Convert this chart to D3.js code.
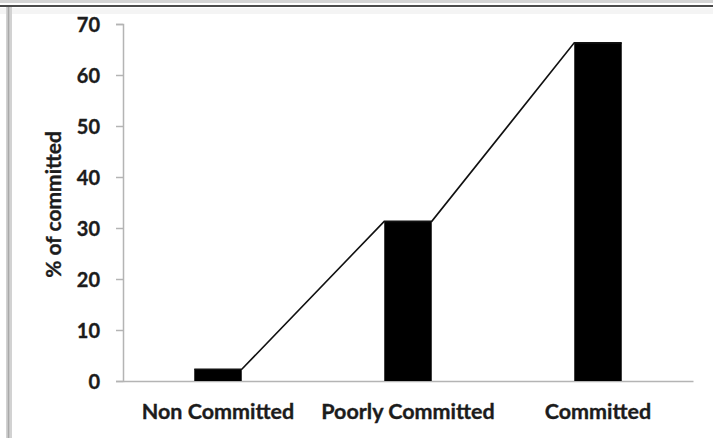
<!DOCTYPE html>
<html>
<head>
<meta charset="utf-8">
<script src="https://d3js.org/d3.v7.min.js"></script>
<style>
  body { margin: 0; background: #fff; }
  text { font-family: Lato, "Liberation Sans", sans-serif; font-weight: bold; fill: #1c1c1c; stroke: #1c1c1c; stroke-width: 0.35px; }
</style>
</head>
<body>
<div id="chart"></div>
<script>
// chart data
const categories = ['Non Committed', 'Poorly Committed', 'Committed'];
const values = [2.3, 31.3, 66.3];
const yTicks = [0, 10, 20, 30, 40, 50, 60, 70];

const width = 713;
const height = 438;
const margin = { top: 24, right: 20, bottom: 57, left: 123 };

const svg = d3.select('#chart').append('svg')
  .attr('width', width)
  .attr('height', height);

// window frame bits at top and left
svg.append('rect').attr('x', 0).attr('y', 0).attr('width', width).attr('height', 3).attr('fill', '#d4d4d4');
svg.append('line').attr('x1', 0).attr('x2', width).attr('y1', 6).attr('y2', 6)
  .attr('stroke', '#4a4a4a').attr('stroke-width', 2);
svg.append('rect').attr('x', 0).attr('y', 8).attr('width', width).attr('height', 6).attr('fill', '#f4f4f4');
svg.append('rect').attr('x', 6).attr('y', 7).attr('width', 6).attr('height', height - 7).attr('fill', '#d2d2d2');
svg.append('line').attr('x1', 8.5).attr('x2', 8.5).attr('y1', 7).attr('y2', height)
  .attr('stroke', '#a9a9a9').attr('stroke-width', 1.5);

const x = d3.scaleBand()
  .domain(categories)
  .range([margin.left, width - margin.right])
  .paddingInner(0.75)
  .paddingOuter(0.375);

const y = d3.scaleLinear()
  .domain([0, 70])
  .range([height - margin.bottom, margin.top]);

// y axis
const yAxis = svg.append('g')
  .attr('transform', `translate(${margin.left},0)`)
  .call(d3.axisLeft(y).tickValues(yTicks).tickSize(7).tickPadding(16).tickSizeOuter(7));
yAxis.select('.domain').attr('stroke', '#b4b4b4').attr('stroke-width', 1.5);
yAxis.selectAll('.tick line').attr('stroke', '#b4b4b4').attr('stroke-width', 1.5);
yAxis.selectAll('.tick text').style('font-size', '20px').attr('dy', '0.36em');

// x axis
const xAxis = svg.append('g')
  .attr('transform', `translate(0,${height - margin.bottom})`)
  .call(d3.axisBottom(x).tickSize(0).tickPadding(23).tickSizeOuter(0));
xAxis.select('.domain').attr('stroke', '#b4b4b4').attr('stroke-width', 1.5);
xAxis.selectAll('.tick text').style('font-size', '21.5px').attr('dy', '0.71em');

// bars
svg.selectAll('.bar')
  .data(values)
  .enter()
  .append('rect')
  .attr('class', 'bar')
  .attr('x', (d, i) => x(categories[i]))
  .attr('y', d => y(d))
  .attr('width', x.bandwidth())
  .attr('height', d => y(0) - y(d))
  .attr('fill', '#000');

// connecting line through the bar top corners
const linePoints = [];
values.forEach((d, i) => {
  linePoints.push([x(categories[i]), y(d)]);
  linePoints.push([x(categories[i]) + x.bandwidth(), y(d)]);
});
svg.append('path')
  .datum(linePoints)
  .attr('fill', 'none')
  .attr('stroke', '#111')
  .attr('stroke-width', 1.6)
  .attr('d', d3.line());

// y label
svg.append('text')
  .attr('transform', `translate(61,${(y(0) + y(70)) / 2 + 2}) rotate(-90)`)
  .attr('text-anchor', 'middle')
  .style('font-size', '21px')
  .text('% of committed');
</script>
</body>
</html>
